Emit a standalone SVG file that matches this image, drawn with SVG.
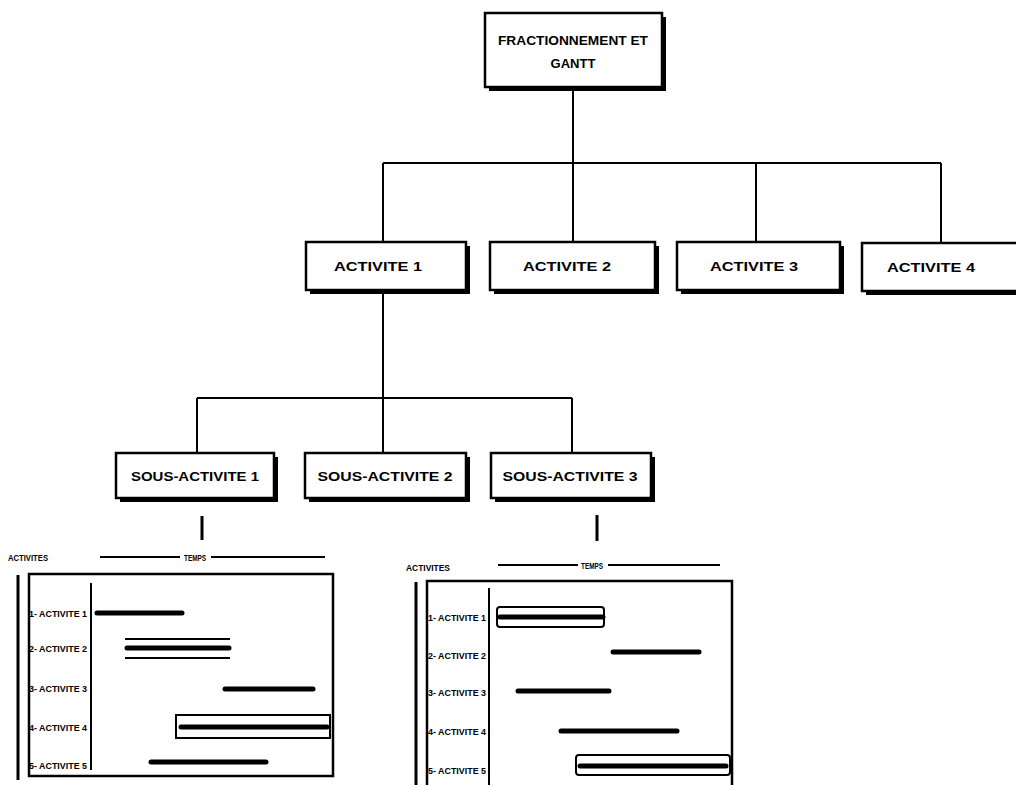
<svg xmlns="http://www.w3.org/2000/svg" width="1016" height="785" viewBox="0 0 1016 785">
<style>
.box{fill:#fff;stroke:#000;stroke-width:2.5}
.sh{fill:#000}
.t{font-family:"Liberation Sans",Arial,sans-serif;font-weight:bold;font-size:13px;fill:#000;text-anchor:middle}
.s{font-family:"Liberation Sans",Arial,sans-serif;font-weight:bold;font-size:9px;fill:#000}
.ln{stroke:#000;stroke-width:2;fill:none}
.bar{stroke:#000;stroke-width:5;stroke-linecap:round}
.thin{stroke:#000;stroke-width:2;fill:none}
</style>
<rect width="1016" height="785" fill="#fff"/>
<g id="connectors" class="ln">
<path d="M573 87V163M383 163H941M383 163V242M573 163V242M756 163V242M941 163V243"/>
<path d="M383 290V398M197 398H572M197 398V453M383 398V453M572 398V453"/>
<path d="M202 516V540M597 515V541" stroke-width="3"/>
</g>
<g id="root">
<rect class="sh" x="489" y="17" width="177" height="74"/>
<rect class="box" x="485" y="13" width="177" height="74"/>
<text class="t" x="573" y="45" textLength="150" lengthAdjust="spacingAndGlyphs">FRACTIONNEMENT ET</text>
<text class="t" x="573" y="68">GANTT</text>
</g>
<g id="a1">
<rect class="sh" x="310" y="246" width="160" height="48"/>
<rect class="box" x="306" y="242" width="160" height="48"/>
<text class="t" x="378" y="271" textLength="88" lengthAdjust="spacingAndGlyphs">ACTIVITE 1</text>
</g>
<g id="a2">
<rect class="sh" x="494" y="246" width="165" height="48"/>
<rect class="box" x="490" y="242" width="165" height="48"/>
<text class="t" x="567" y="271" textLength="88" lengthAdjust="spacingAndGlyphs">ACTIVITE 2</text>
</g>
<g id="a3">
<rect class="sh" x="681" y="246" width="163" height="48"/>
<rect class="box" x="677" y="242" width="163" height="48"/>
<text class="t" x="754" y="271" textLength="88" lengthAdjust="spacingAndGlyphs">ACTIVITE 3</text>
</g>
<g id="a4">
<rect class="sh" x="866" y="247" width="160" height="48"/>
<rect class="box" x="862" y="243" width="160" height="48"/>
<text class="t" x="931" y="272" textLength="88" lengthAdjust="spacingAndGlyphs">ACTIVITE 4</text>
</g>
<g id="s1">
<rect class="sh" x="120" y="457" width="158" height="45"/>
<rect class="box" x="116" y="453" width="158" height="45"/>
<text class="t" x="195" y="481" textLength="128" lengthAdjust="spacingAndGlyphs">SOUS-ACTIVITE 1</text>
</g>
<g id="s2">
<rect class="sh" x="309" y="457" width="161" height="45"/>
<rect class="box" x="305" y="453" width="161" height="45"/>
<text class="t" x="385" y="481" textLength="135" lengthAdjust="spacingAndGlyphs">SOUS-ACTIVITE 2</text>
</g>
<g id="s3">
<rect class="sh" x="495" y="457" width="160" height="45"/>
<rect class="box" x="491" y="453" width="160" height="45"/>
<text class="t" x="570" y="481" textLength="135" lengthAdjust="spacingAndGlyphs">SOUS-ACTIVITE 3</text>
</g>
<g id="gantt1">
<text class="s" x="8" y="561" textLength="40" lengthAdjust="spacingAndGlyphs">ACTIVITES</text>
<text class="s" x="184" y="561" textLength="22" lengthAdjust="spacingAndGlyphs">TEMPS</text>
<path class="thin" d="M100 557H180M211 557H325"/>
<path d="M18 575V780" stroke="#000" stroke-width="3"/>
<rect x="29" y="574" width="304" height="202" fill="none" stroke="#000" stroke-width="2.5"/>
<path class="thin" d="M91 583V770"/>
<text class="s" x="29" y="617" textLength="58" lengthAdjust="spacingAndGlyphs">1- ACTIVITE 1</text>
<text class="s" x="29" y="652" textLength="58" lengthAdjust="spacingAndGlyphs">2- ACTIVITE 2</text>
<text class="s" x="29" y="692" textLength="58" lengthAdjust="spacingAndGlyphs">3- ACTIVITE 3</text>
<text class="s" x="29" y="731" textLength="58" lengthAdjust="spacingAndGlyphs">4- ACTIVITE 4</text>
<text class="s" x="29" y="769" textLength="58" lengthAdjust="spacingAndGlyphs">5- ACTIVITE 5</text>
<path class="bar" d="M97 613H182"/>
<path class="thin" d="M125 639H230M125 658H230"/>
<path class="bar" d="M127 648H229"/>
<path class="bar" d="M225 689H313"/>
<rect x="176" y="715" width="154" height="23" fill="none" stroke="#000" stroke-width="2"/>
<path class="bar" d="M181 727H327"/>
<path class="bar" d="M151 762H266"/>
</g>
<g id="gantt2">
<text class="s" x="406" y="571" textLength="44" lengthAdjust="spacingAndGlyphs">ACTIVITES</text>
<text class="s" x="581" y="569" textLength="22" lengthAdjust="spacingAndGlyphs">TEMPS</text>
<path class="thin" d="M498 565H578M608 565H720"/>
<path d="M416 582V785" stroke="#000" stroke-width="3"/>
<rect x="427" y="581" width="305" height="210" fill="none" stroke="#000" stroke-width="2.5"/>
<path class="thin" d="M489 588V785"/>
<text class="s" x="428" y="621" textLength="58" lengthAdjust="spacingAndGlyphs">1- ACTIVITE 1</text>
<text class="s" x="428" y="659" textLength="58" lengthAdjust="spacingAndGlyphs">2- ACTIVITE 2</text>
<text class="s" x="428" y="696" textLength="58" lengthAdjust="spacingAndGlyphs">3- ACTIVITE 3</text>
<text class="s" x="428" y="735" textLength="58" lengthAdjust="spacingAndGlyphs">4- ACTIVITE 4</text>
<text class="s" x="428" y="774" textLength="58" lengthAdjust="spacingAndGlyphs">5- ACTIVITE 5</text>
<rect x="497" y="607" width="107" height="20" rx="3" fill="none" stroke="#000" stroke-width="2"/>
<path class="bar" d="M500 617H603"/>
<path class="bar" d="M613 652H699"/>
<path class="bar" d="M518 691H609"/>
<path class="bar" d="M561 731H677"/>
<rect x="576" y="755" width="154" height="20" rx="3" fill="none" stroke="#000" stroke-width="2"/>
<path class="bar" d="M580 766H726"/>
</g>
</svg>
